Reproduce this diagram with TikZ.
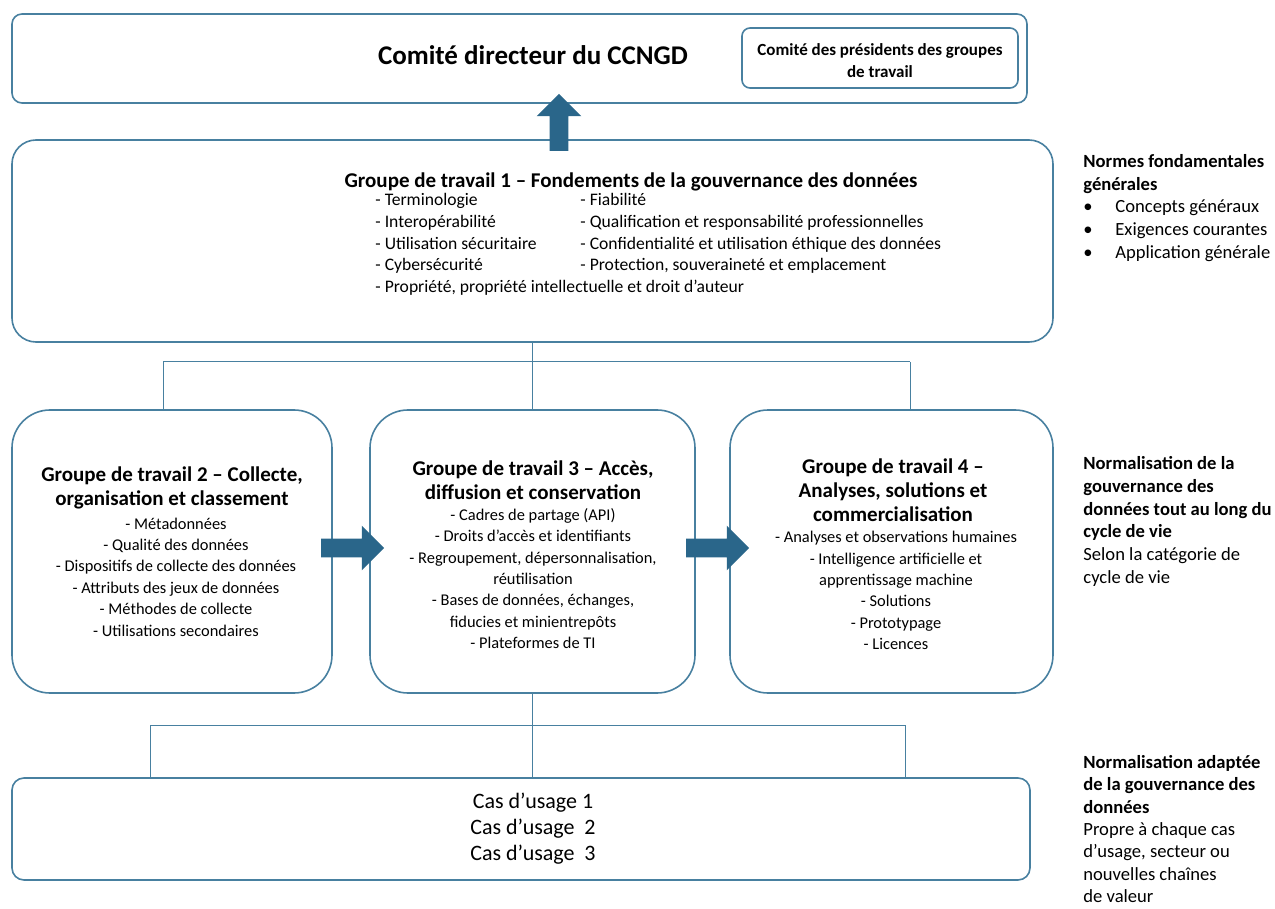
\documentclass[tikz,border=0pt]{standalone}
\usepackage{fontspec}
\setmainfont{Carlito}
\usetikzlibrary{fit,shapes.arrows}
\definecolor{boxblue}{RGB}{72,128,160}
\definecolor{arrowblue}{RGB}{42,102,138}
\newcommand{\midtop}{410}
\newcommand{\midbot}{693}

\tikzset{
	box/.style={draw=boxblue, line width=0.8pt, inner sep=0pt},
	wire/.style={draw=boxblue, line width=0.5pt},
	flow/.style={single arrow, fill=arrowblue, inner sep=4.5pt, single arrow head extend=6.5pt, minimum height=#1},
	grouptitle/.style={font=\fontsize{10.5}{12}\selectfont\bfseries, align=center},
	groupitems/.style={font=\fontsize{8.2}{10.7}\selectfont, align=center},
	side/.style={font=\fontsize{9.3}{11.4}\selectfont, align=left, anchor=west, inner sep=0pt},
}

\begin{document}
\begin{tikzpicture}[x=0.5pt, y=-0.5pt]

	\useasboundingbox (0,0) rectangle (1275,909);

	% steering committee
	\node[box, rounded corners=5pt, fit={(12,14) (1027,103)}] (steer) {};
	\node[font=\fontsize{13.5}{15}\selectfont\bfseries] (steer title) at (533,55) {Comité directeur du CCNGD};
	\node[box, rounded corners=4pt, fit={(742,28) (1018,88)}] (chairs) {};
	\node[font=\fontsize{8.5}{11}\selectfont\bfseries, align=center] (chairs title) at (880,61) {Comité des présidents des groupes\\de travail};

	% working group 1
	\node[box, rounded corners=12pt, fit={(12,140) (1053,342)}] (gt1) {};
	\node[font=\fontsize{10.5}{12}\selectfont\bfseries] (gt1 title) at (631,182) {Groupe de travail 1 – Fondements de la gouvernance des données};
	\node[font=\fontsize{8.8}{10.9}\selectfont, align=left, anchor=west, inner sep=0pt] (gt1 left) at (375,244.5)
		{- Terminologie\\- Interopérabilité\\- Utilisation sécuritaire\\- Cybersécurité\\- Propriété, propriété intellectuelle et droit d’auteur};
	\node[font=\fontsize{8.8}{10.9}\selectfont, align=left, anchor=west, inner sep=0pt] (gt1 right) at (580,233.5)
		{- Fiabilité\\- Qualification et responsabilité professionnelles\\- Confidentialité et utilisation éthique des données\\- Protection, souveraineté et emplacement};

	% working groups 2 to 4
	\foreach \n/\l/\r in {gt2/12/332, gt3/370/695, gt4/730/1053}
	{
		\node[box, rounded corners=19pt, fit={(\l,\midtop) (\r,\midbot)}] (\n) {};
	}
	\node[grouptitle] (gt2 title) at (172,488) {Groupe de travail 2 – Collecte,\\organisation et classement};
	\node[groupitems] (gt2 items) at (176,577) {- Métadonnées\\- Qualité des données\\- Dispositifs de collecte des données\\- Attributs des jeux de données\\- Méthodes de collecte\\- Utilisations secondaires};
	\node[grouptitle] (gt3 title) at (533,480) {Groupe de travail 3 – Accès,\\diffusion et conservation};
	\node[groupitems] (gt3 items) at (533,578.5) {- Cadres de partage (API)\\- Droits d’accès et identifiants\\- Regroupement, dépersonnalisation,\\réutilisation\\- Bases de données, échanges,\\fiducies et minientrepôts\\- Plateformes de TI};
	\node[grouptitle] (gt4 title) at (893,490.5) {Groupe de travail 4 –\\Analyses, solutions et\\commercialisation};
	\node[groupitems] (gt4 items) at (896,590.5) {- Analyses et observations humaines\\- Intelligence artificielle et\\apprentissage machine\\- Solutions\\- Prototypage\\- Licences};

	% use cases
	\node[box, rounded corners=6pt, fit={(12,778) (1030,880)}] (cases) {};
	\node[font=\fontsize{11}{13}\selectfont, align=center] (cases text) at (533,829) {Cas d’usage 1\\Cas d’usage\ \ 2\\Cas d’usage\ \ 3};

	% connectors
	\coordinate (bar1 left) at (163,362);
	\coordinate (bar1 right) at (910,362);
	\draw[wire] (gt1.south) -- (gt3.north);
	\draw[wire] (bar1 left) -- (bar1 right);
	\draw[wire] (bar1 left) -- (bar1 left |- gt2.north);
	\draw[wire] (bar1 right) -- (bar1 right |- gt4.north);
	\coordinate (bar2 left) at (150,725);
	\coordinate (bar2 right) at (905,725);
	\draw[wire] (gt3.south) -- (gt3.south |- cases.north);
	\draw[wire] (bar2 left) -- (bar2 right);
	\draw[wire] (bar2 left) -- (bar2 left |- cases.north);
	\draw[wire] (bar2 right) -- (bar2 right |- cases.north);

	% block arrows
	\node[flow=28.5pt, rotate=90] (up) at (559,127) {};
	\node[flow=31.5pt] (right a) at (348,548) {};
	\node[flow=31.5pt] (right b) at (713,548) {};

	% side notes
	\node[side] (note1) at (1083,208) {\textbf{Normes fondamentales}\\\textbf{générales}\\\makebox[16pt][l]{\textbullet}Concepts généraux\\\makebox[16pt][l]{\textbullet}Exigences courantes\\\makebox[16pt][l]{\textbullet}Application générale};
	\node[side] (note2) at (1083,521.5) {\textbf{Normalisation de la}\\\textbf{gouvernance des}\\\textbf{données tout au long du}\\\textbf{cycle de vie}\\Selon la catégorie de\\cycle de vie};
	\node[side, font=\fontsize{9.3}{11.2}\selectfont] (note3) at (1083,829) {\textbf{Normalisation adaptée}\\\textbf{de la gouvernance des}\\\textbf{données}\\Propre à chaque cas\\d’usage, secteur ou\\nouvelles chaînes\\de valeur};

\end{tikzpicture}
\end{document}
